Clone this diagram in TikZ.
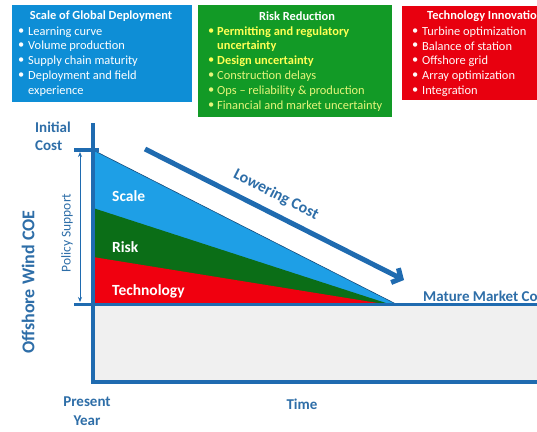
\documentclass[tikz,border=0pt]{standalone}
\usepackage{fontspec}
\setmainfont{Carlito}
\usetikzlibrary{arrows.meta}
\definecolor{boxblue}{HTML}{0E8ED6}
\definecolor{boxgreen}{HTML}{129A26}
\definecolor{boxred}{HTML}{E8000F}
\definecolor{wblue}{HTML}{1E9FE6}
\definecolor{wgreen}{HTML}{0B6E17}
\definecolor{wred}{HTML}{F0000F}
\definecolor{axisblue}{HTML}{1F6BB0}
\definecolor{lblblue}{HTML}{2E6EA8}
\definecolor{ylw}{HTML}{FFFF55}
\definecolor{lylw}{HTML}{E6F57A}
\definecolor{paleg}{HTML}{F0F0F0}
\tikzset{
  panel/.style={anchor=north west, inner sep=0pt, outer sep=0pt},
  item/.style={anchor=west, inner sep=0pt, font=\fontsize{12.4}{13}\selectfont},
  ttl/.style={inner sep=0pt, font=\fontsize{12.4}{13}\selectfont\bfseries, text=white},
  lbl/.style={inner sep=0pt, text=lblblue, font=\fontsize{15}{16}\selectfont\bfseries},
  wlbl/.style={anchor=west, inner sep=0pt, text=white, font=\fontsize{15.5}{17}\selectfont\bfseries},
  axis/.style={draw=axisblue, line width=4pt},
}
\begin{document}
\begin{tikzpicture}[x=1pt,y=-1pt]
\useasboundingbox (0,0) rectangle (537,431);
\clip (0,0) rectangle (537,431);
\fill[white] (0,0) rectangle (537,431);

% ---- top panels
\node[panel, fill=boxblue, minimum width=180pt, minimum height=97pt] (pscale) at (12,5) {};
\node[panel, fill=boxgreen, minimum width=194pt, minimum height=112pt] (prisk) at (198,5) {};
\node[panel, fill=boxred, minimum width=140pt, minimum height=94pt] (ptech) at (402,6) {};

\node[ttl] (t1) at (101,16) {Scale of Global Deployment};
\foreach \n/\y/\t in {a/32/Learning curve, b/46/Volume production, c/61/Supply chain maturity, d/76/Deployment and field}{
  \node[item, text=white] (s\n b) at (18,\y) {•};
  \node[item, text=white] (s\n) at (28,\y) {\t};
}
\node[item, text=white] (se) at (28,91) {experience};

\node[ttl] (t2) at (297,16) {Risk Reduction};
\node[item, text=ylw] (rab) at (208,32) {•};
\node[item, text=ylw, font=\fontsize{12.4}{13}\selectfont\bfseries] (ra) at (217,32) {Permitting and regulatory};
\node[item, text=ylw, font=\fontsize{12.4}{13}\selectfont\bfseries] (ra2) at (217,46) {uncertainty};
\node[item, text=ylw] (rbb) at (208,61) {•};
\node[item, text=ylw, font=\fontsize{12.4}{13}\selectfont\bfseries] (rb) at (217,61) {Design uncertainty};
\foreach \n/\y/\t in {c/76/Construction delays, d/91/Ops – reliability \& production, e/106/Financial and market uncertainty}{
  \node[item, text=lylw] (r\n b) at (208,\y) {•};
  \node[item, text=lylw] (r\n) at (217,\y) {\t};
}

\node[ttl, anchor=west] (t3) at (427,16) {Technology Innovation};
\foreach \n/\y/\t in {a/32/Turbine optimization, b/46/Balance of station, c/61/Offshore grid, d/76/Array optimization, e/91/Integration}{
  \node[item, text=white!90!pink] (k\n b) at (412,\y) {•};
  \node[item, text=white!90!pink] (k\n) at (422,\y) {\t};
}

% ---- chart
\fill[paleg] (93,304) rectangle (537,382);
\coordinate (o0) at (93,150);
\coordinate (apex) at (396,304);
\fill[wblue] (93,150) -- (396,304) -- (93,304) -- cycle;
\fill[wgreen] (93,208) -- (389,304) -- (93,304) -- cycle;
\fill[wred] (93,257) -- (384,304) -- (93,304) -- cycle;
\draw[axisblue!70!black, line width=0.6pt] (93,150) -- (396,304);

\coordinate (ytop) at (93,123);
\coordinate (orig) at (93,382);
\coordinate (xend) at (540,382);
\draw[axis] (ytop) -- (orig) -- (xend);
\coordinate (mml) at (74,304);
\coordinate (mmr) at (540,304);
\draw[axisblue, line width=3pt] (mml) -- (mmr);
\coordinate (icl) at (74,150);
\coordinate (icr) at (99,150);
\draw[axis] (icl) -- (icr);

\coordinate (ps1) at (80,152);
\coordinate (ps2) at (80,302);
\draw[axisblue, line width=0.9pt, {Stealth[length=5pt,width=4pt]}-{Stealth[length=5pt,width=4pt]}] (ps1) -- (ps2);
\node[rotate=90, inner sep=0pt, text=lblblue, font=\fontsize{13.5}{14}\selectfont] (pslbl) at (67,233) {Policy Support};

\coordinate (lc1) at (145,149);
\coordinate (lc2) at (404,280);
\draw[axisblue, line width=5pt, -{Straight Barb[length=7pt,width=16pt]}] (lc1) -- (lc2);
\node[lbl, rotate=-27, font=\fontsize{16}{17}\selectfont\bfseries] (lclbl) at (276,195) {Lowering Cost};

\node[wlbl] (wscale) at (112,196) {Scale};
\node[wlbl] (wrisk) at (112,247) {Risk};
\node[wlbl] (wtech) at (112,291) {Technology};

\node[lbl, anchor=west, font=\fontsize{15}{16}\selectfont\bfseries] (mature) at (423,296) {Mature Market Cost};

\node[lbl, anchor=west] (ini) at (35,127) {Initial};
\node[lbl, anchor=west] (cost) at (35,146) {Cost};
\node[lbl] (pres) at (87,402) {Present};
\node[lbl] (year) at (87,421) {Year};
\node[lbl, font=\fontsize{15}{16}\selectfont\bfseries] (time) at (302,404) {Time};
\node[lbl, rotate=90, font=\fontsize{18}{19}\selectfont\bfseries] (coe) at (28,282) {Offshore Wind COE};
\end{tikzpicture}
\end{document}
